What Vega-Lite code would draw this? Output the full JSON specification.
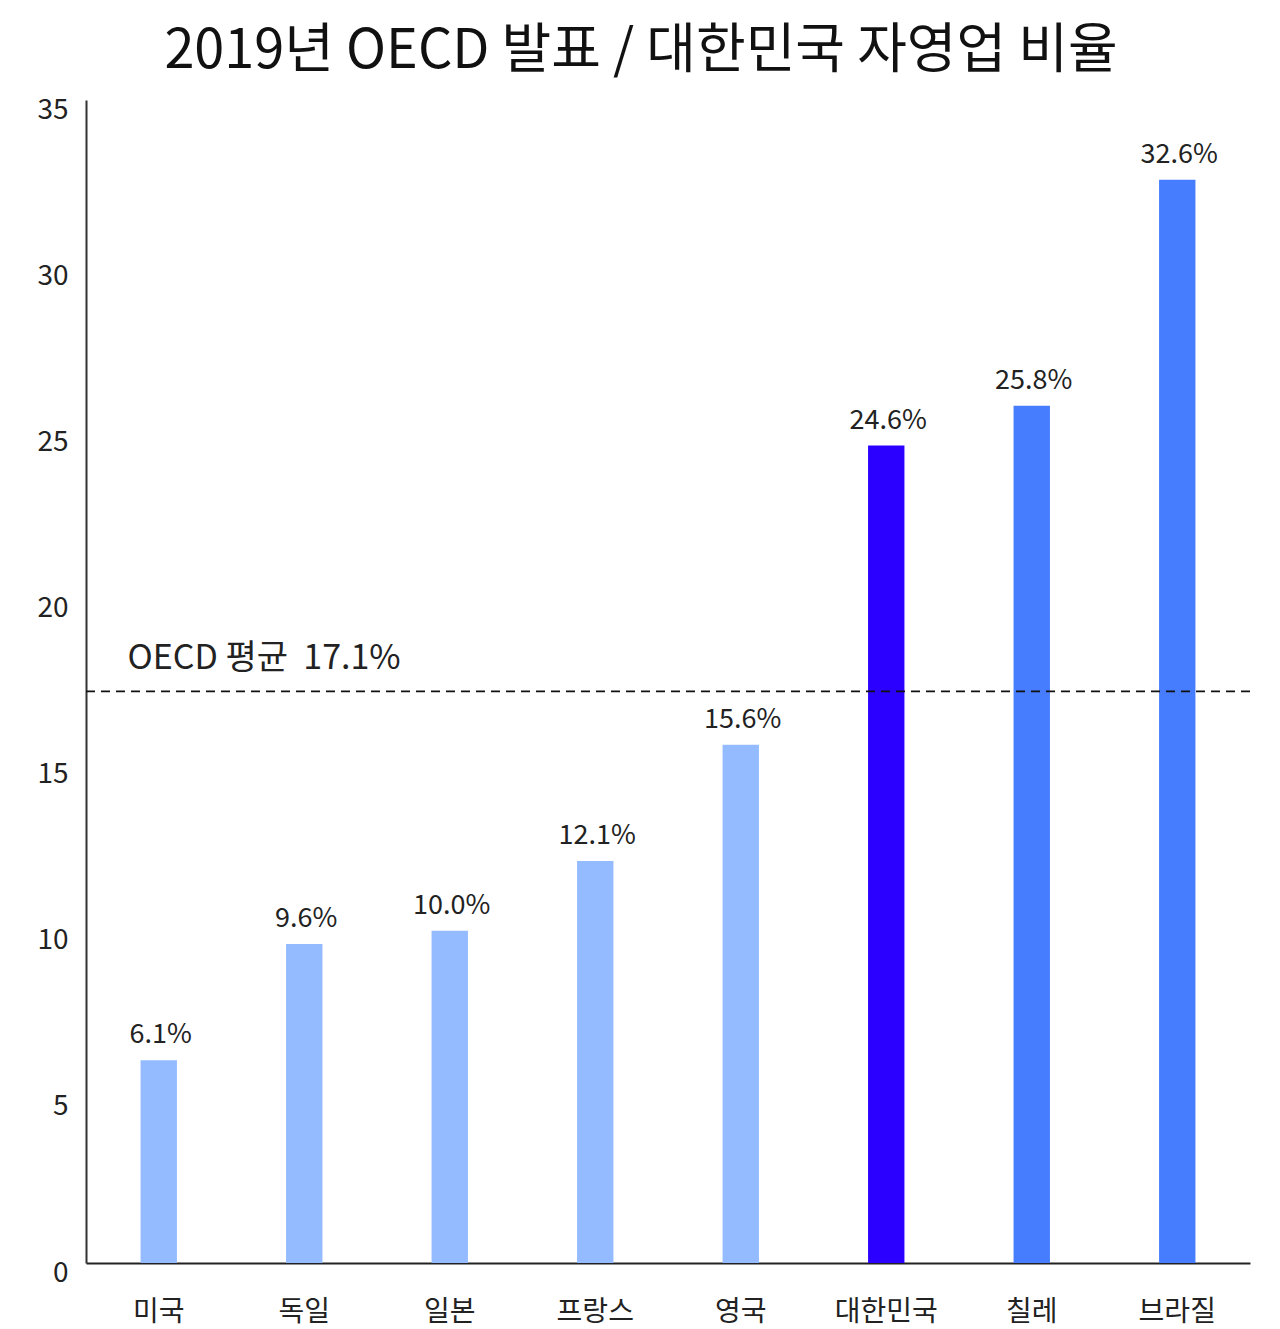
{
  "$schema": "https://vega.github.io/schema/vega-lite/v6.json",
  "title": {
    "text": "2019년 OECD 발표 / 대한민국 자영업 비율",
    "font": "Noto Sans CJK KR",
    "fontSize": 54,
    "fontWeight": "normal",
    "color": "#111111",
    "anchor": "middle",
    "frame": "group",
    "baseline": "alphabetic",
    "offset": -26,
    "dx": -27
  },
  "width": 1164,
  "height": 1163,
  "autosize": "none",
  "padding": {"top": 100, "left": 86, "right": 30, "bottom": 66},
  "background": "white",
  "config": {
    "view": {"stroke": null},
    "font": "Noto Sans CJK KR"
  },
  "data": {
    "values": [
      {"country": "미국", "rate": 6.1, "group": "기타"},
      {"country": "독일", "rate": 9.6, "group": "기타"},
      {"country": "일본", "rate": 10.0, "group": "기타"},
      {"country": "프랑스", "rate": 12.1, "group": "기타"},
      {"country": "영국", "rate": 15.6, "group": "기타"},
      {"country": "대한민국", "rate": 24.6, "group": "한국"},
      {"country": "칠레", "rate": 25.8, "group": "상위"},
      {"country": "브라질", "rate": 32.6, "group": "상위"}
    ]
  },
  "layer": [
    {
      "mark": {"type": "bar"},
      "encoding": {
        "x": {
          "field": "country",
          "type": "nominal",
          "sort": null,
          "title": null,
          "scale": {"paddingInner": 0.75, "paddingOuter": 0.375},
          "axis": {
            "labelAngle": 0,
            "ticks": false,
            "domainColor": "#222222",
            "domainWidth": 2,
            "labelFont": "Noto Sans CJK KR",
            "labelFontSize": 28,
            "labelColor": "#222222",
            "labelPadding": 49,
            "labelBaseline": "middle"
          }
        },
        "y": {
          "field": "rate",
          "type": "quantitative",
          "title": null,
          "scale": {"domain": [0, 35], "nice": false},
          "axis": {
            "values": [0, 5, 10, 15, 20, 25, 30, 35],
            "grid": false,
            "ticks": false,
            "domainColor": "#333333",
            "domainWidth": 2,
            "labelFont": "Noto Sans CJK KR",
            "labelFontSize": 28,
            "labelColor": "#222222",
            "labelPadding": 18,
            "labelOffset": 10,
            "labelBaseline": "middle"
          }
        },
        "color": {
          "field": "group",
          "type": "nominal",
          "scale": {"domain": ["기타", "한국", "상위"], "range": ["#94bbff", "#2b00ff", "#467dff"]},
          "legend": null
        }
      }
    },
    {
      "transform": [{"calculate": "format(datum.rate, '.1f') + '%'", "as": "label"}],
      "mark": {"type": "text", "baseline": "alphabetic", "dy": -17, "dx": 2, "fontSize": 27, "color": "#222222", "font": "Noto Sans CJK KR"},
      "encoding": {
        "x": {"field": "country", "type": "nominal", "sort": null},
        "y": {"field": "rate", "type": "quantitative"},
        "text": {"field": "label"}
      }
    },
    {
      "data": {"values": [{"avg": 17.2, "label": "OECD 평균\u00a0 17.1%"}]},
      "layer": [
        {
          "mark": {"type": "rule", "strokeDash": [9, 6], "strokeWidth": 1.8, "color": "#111111"},
          "encoding": {"y": {"field": "avg", "type": "quantitative"}}
        },
        {
          "mark": {"type": "text", "align": "left", "baseline": "alphabetic", "dx": -13, "dy": -22, "fontSize": 34, "color": "#222222", "font": "Noto Sans CJK KR"},
          "encoding": {
            "x": {"datum": "미국", "type": "nominal", "bandPosition": 0},
            "y": {"field": "avg", "type": "quantitative"},
            "text": {"field": "label"}
          }
        }
      ]
    }
  ]
}
